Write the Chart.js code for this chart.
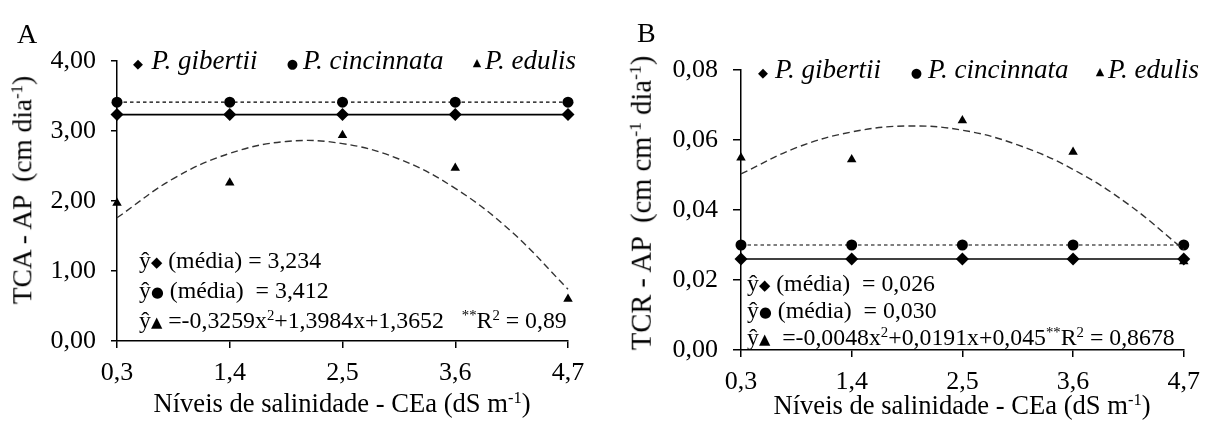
<!DOCTYPE html>
<html>
<head>
<meta charset="utf-8">
<script src="https://cdn.jsdelivr.net/npm/chart.js@4/dist/chart.umd.min.js"></script>
<style>
  html, body { margin: 0; padding: 0; background: #fff; }
  #wrap { position: relative; width: 1210px; height: 425px; overflow: hidden; background: #fff; }
  canvas { position: absolute; top: 0; }
  .t { position: absolute; white-space: nowrap; line-height: 1; color: #000;
       font-family: "Liberation Serif", "Times New Roman", serif; }
  .t sup { font-size: 0.62em; line-height: 0; vertical-align: 0.55em; }
  .sym { font-family: "DejaVu Sans", sans-serif; font-size: 0.62em; vertical-align: 0.08em; }
</style>
</head>
<body>
<div id="wrap">
  <canvas id="cA" width="600" height="425" style="left:0px"></canvas>
  <canvas id="cB" width="605" height="425" style="left:605px"></canvas>
</div>
<script>
// ---------- data ----------
const xValues = [0.3, 1.4, 2.5, 3.6, 4.7];
const xTickLabels = ['0,3', '1,4', '2,5', '3,6', '4,7'];
const seriesNames = ['P. gibertii', 'P. cincinnata', 'P. edulis'];

// Panel A - TCA - AP (cm dia-1)
const yTicksA = [0, 1, 2, 3, 4];
const yTickLabelsA = ['0,00', '1,00', '2,00', '3,00', '4,00'];
const gibertiiA = [3.234, 3.234, 3.234, 3.234, 3.234];
const cincinnataA = [3.412, 3.412, 3.412, 3.412, 3.412];
const edulisA = [1.97, 2.26, 2.94, 2.47, 0.60];
const fitXA = [0.3, 0.85, 1.4, 1.95, 2.5, 3.05, 3.6, 4.15, 4.7];
const fitA = [1.76, 2.32, 2.68, 2.85, 2.82, 2.60, 2.18, 1.56, 0.74];

// Panel B - TCR - AP (cm cm-1 dia-1)
const yTicksB = [0, 0.02, 0.04, 0.06, 0.08];
const yTickLabelsB = ['0,00', '0,02', '0,04', '0,06', '0,08'];
const gibertiiB = [0.026, 0.026, 0.026, 0.026, 0.026];
const cincinnataB = [0.030, 0.030, 0.030, 0.030, 0.030];
const edulisB = [0.0549, 0.0544, 0.0656, 0.0566, 0.0253];
const fitXB = [0.3, 0.85, 1.4, 1.95, 2.5, 3.05, 3.6, 4.15, 4.7];
const fitB = [0.0503, 0.0578, 0.0623, 0.0640, 0.0628, 0.0586, 0.0516, 0.0416, 0.0287];

// ---------- chart builder ----------
const FONT = '"Liberation Serif", "Times New Roman", serif';
function pts(xs, ys) { return xs.map((x, i) => ({ x: x, y: ys[i] })); }

function makeChart(id, g, c, e, fx, fy, yTicks, yLabels, box) {
  const ctx = document.getElementById(id).getContext('2d');
  return new Chart(ctx, {
    type: 'scatter',
    data: {
      datasets: [
        { label: seriesNames[2] + ' fit', data: pts(fx, fy), showLine: true, pointRadius: 0,
          borderColor: '#333', borderWidth: 1.4, borderDash: [7, 4], tension: 0.4, fill: false },
        { label: seriesNames[1], data: pts(xValues, c), showLine: true, pointStyle: 'circle',
          pointRadius: 5.5, backgroundColor: '#000', borderColor: '#000', borderWidth: 1.2,
          borderDash: [3.5, 3], pointBorderWidth: 0 },
        { label: seriesNames[0], data: pts(xValues, g), showLine: true, pointStyle: 'rectRot',
          pointRadius: 6.5, backgroundColor: '#000', borderColor: '#000', borderWidth: 1.6,
          pointBorderWidth: 0 },
        { label: seriesNames[2], data: pts(xValues, e), showLine: false, pointStyle: 'triangle',
          pointRadius: 5.5, backgroundColor: '#000', borderColor: '#000', pointBorderWidth: 0 }
      ]
    },
    options: {
      responsive: false, animation: false, devicePixelRatio: 1,
      clip: false,
      layout: { padding: { left: 0, right: box.right, top: box.top, bottom: 0 } },
      plugins: { legend: { display: false }, tooltip: { enabled: false } },
      scales: {
        x: {
          type: 'linear', min: xValues[0], max: xValues[xValues.length - 1],
          afterBuildTicks: s => { s.ticks = xValues.map(v => ({ value: v })); },
          afterFit: s => { s.height = box.xh; },
          ticks: { callback: (v, i) => xTickLabels[i], color: '#000', padding: 10,
                   font: { family: FONT, size: 26 }, maxRotation: 0, autoSkip: false },
          grid: { drawOnChartArea: false, drawTicks: true, tickLength: 7, color: '#000', lineWidth: 1.5 },
          border: { display: true, color: '#000', width: 1.5 }
        },
        y: {
          type: 'linear', min: yTicks[0], max: yTicks[yTicks.length - 1],
          afterBuildTicks: s => { s.ticks = yTicks.map(v => ({ value: v })); },
          afterFit: s => { s.width = box.yw; },
          ticks: { callback: (v, i) => yLabels[i], color: '#000', padding: 15,
                   font: { family: FONT, size: 26 } },
          grid: { drawOnChartArea: false, drawTicks: true, tickLength: box.ytl, color: '#000', lineWidth: 1.5 },
          border: { display: true, color: '#000', width: 1.5 }
        }
      }
    }
  });
}

makeChart('cA', gibertiiA, cincinnataA, edulisA, fitXA, fitA, yTicksA, yTickLabelsA,
          { right: 32, top: 61, xh: 84, yw: 117, ytl: 6 });
makeChart('cB', gibertiiB, cincinnataB, edulisB, fitXB, fitB, yTicksB, yTickLabelsB,
          { right: 20, top: 70, xh: 75, yw: 136, ytl: 8 });

// ---------- text overlays ----------
const wrap = document.getElementById('wrap');
function T(html, x, baseline, size, o) {
  o = o || {};
  const d = document.createElement('div');
  d.className = 't';
  d.innerHTML = html;
  d.style.fontSize = size + 'px';
  if (o.italic) d.style.fontStyle = 'italic';
  const cy = o.cy !== undefined ? o.cy : baseline - 0.3375 * size;
  d.style.top = cy + 'px';
  d.style.left = x + 'px';
  let tr = 'translate(' + (o.center ? '-50%' : '0') + ',-50%)';
  if (o.rot) tr = 'translate(-50%,-50%) rotate(-90deg)';
  d.style.transform = tr;
  if (o.font) d.style.fontFamily = o.font;
  wrap.appendChild(d);
  return d;
}
const SYMF = '"DejaVu Sans", sans-serif';
function S(ch, cx, cy, size) { return T(ch, cx, 0, size, { center: true, cy: cy, font: SYMF }); }
const D = '<span class="sym">&#9670;</span>', C = '<span class="sym">&#9679;</span>', TR = '<span class="sym">&#9650;</span>';

// Panel A
T('A', 17, 43, 28);
S('&#9670;', 138, 62.5, 13); T(seriesNames[0], 151.5, 69, 27, { italic: true });
S('&#9679;', 292.5, 62.5, 13); T(seriesNames[1], 303, 69, 27, { italic: true });
S('&#9650;', 477, 62, 11); T(seriesNames[2], 485, 69, 27, { italic: true });
T('&#375;' + D + ' (média) = 3,234', 139, 269, 23.8);
T('&#375;' + C + ' (média) &nbsp;= 3,412', 139, 299, 23.8);
T('&#375;' + TR + ' =-0,3259x<sup>2</sup>+1,3984x+1,3652 &nbsp; <sup>**</sup>R<sup>2</sup> = 0,89', 139, 329, 23.8);
T('TCA - AP &nbsp;(cm dia<sup>-1</sup>)', 23, 0, 27.4, { rot: true, cy: 190 });
T('Níveis de salinidade - CEa (dS m<sup>-1</sup>)', 342, 412, 26.6, { center: true });

// Panel B
T('B', 637, 42, 28);
S('&#9670;', 763, 71.5, 13); T(seriesNames[0], 775, 78, 27, { italic: true });
S('&#9679;', 916.5, 71.5, 13); T(seriesNames[1], 928, 78, 27, { italic: true });
S('&#9650;', 1100, 71, 11); T(seriesNames[2], 1108, 78, 27, { italic: true });
T('&#375;' + D + ' (média) &nbsp;= 0,026', 747, 292, 23.8);
T('&#375;' + C + ' (média) &nbsp;= 0,030', 747, 319, 23.8);
T('&#375;' + TR + ' &nbsp;=-0,0048x<sup>2</sup>+0,0191x+0,045<sup>**</sup>R<sup>2</sup> = 0,8678', 747, 346, 23.8);
T('TCR - AP &nbsp;(cm cm<sup>-1</sup> dia<sup>-1</sup>)', 642, 0, 28.5, { rot: true, cy: 203 });
T('Níveis de salinidade - CEa (dS m<sup>-1</sup>)', 962, 414, 26.6, { center: true });
</script>
</body>
</html>
